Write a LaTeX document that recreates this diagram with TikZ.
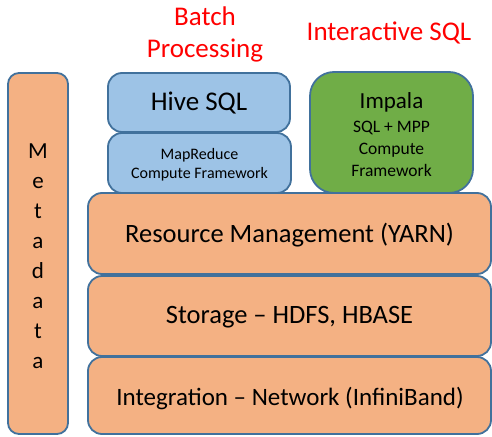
\documentclass[tikz,border=0pt]{standalone}
\usepackage{fontspec}
\setmainfont{Carlito}
\definecolor{orfill}{HTML}{F4B183}
\definecolor{blfill}{HTML}{9DC3E6}
\definecolor{grfill}{HTML}{70AD47}
\definecolor{edge}{HTML}{41719C}
\definecolor{redtxt}{HTML}{FF0000}
\begin{document}
\begin{tikzpicture}[x=1pt,y=-1pt,
  box/.style={draw=edge,line width=1.8pt,rounded corners=14pt},
  orbox/.style={box,fill=orfill},
  blbox/.style={box,fill=blfill},
  grbox/.style={box,fill=grfill,rounded corners=24pt},
  lbl/.style={align=center,text=black,inner sep=0pt},
  title/.style={align=center,text=redtxt,inner sep=0pt,font=\fontsize{27}{32}\selectfont}]
\useasboundingbox (0,0) rectangle (492,436);
% metadata
\draw[orbox,rounded corners=11pt] (8,73) rectangle (68,434);
\node[lbl,font=\fontsize{23}{30}\selectfont] (meta) at (38,256) {M\\e\\t\\a\\d\\a\\t\\a};
% layers
\draw[orbox] (88,193) rectangle (491,274);
\node[lbl,font=\fontsize{26.5}{30}\selectfont] (yarn) at (289.5,235) {Resource Management (YARN)};
\draw[orbox] (88,276) rectangle (491,356);
\node[lbl,font=\fontsize{26.5}{30}\selectfont] (hdfs) at (289.5,317) {Storage -- HDFS, HBASE};
\draw[orbox] (88,357) rectangle (491,434);
\node[lbl,font=\fontsize{25}{30}\selectfont] (net) at (290,398) {Integration -- Network (InfiniBand)};
% batch
\draw[blbox] (108,133) rectangle (291,193);
\node[lbl,font=\fontsize{16}{19}\selectfont] (mr) at (199.5,164.5) {MapReduce\\Compute Framework};
\draw[blbox] (108,73) rectangle (290,132);
\node[lbl,font=\fontsize{27}{30}\selectfont] (hive) at (199,103) {Hive SQL};
% impala
\draw[grbox] (310,72) rectangle (473,193);
\node[lbl,font=\fontsize{23}{26}\selectfont] (imp) at (391.5,102) {Impala};
\node[lbl,font=\fontsize{17.5}{22}\selectfont] (impd) at (391.5,149) {SQL + MPP\\Compute\\Framework};
% titles
\node[title] (batch) at (205,34) {Batch\\Processing};
\node[title] (inter) at (389,33) {Interactive SQL};
\end{tikzpicture}
\end{document}
